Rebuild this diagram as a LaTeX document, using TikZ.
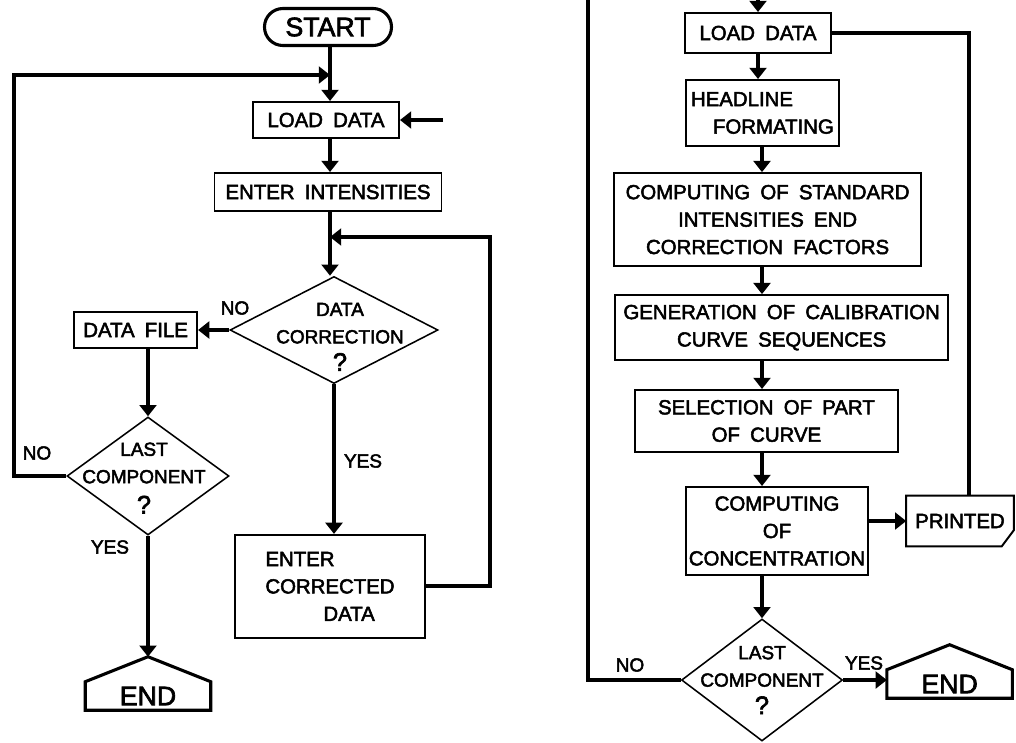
\documentclass[tikz,border=0pt]{standalone}
\usepackage{fontspec}
\setmainfont{Liberation Sans}[WordSpace=1.8, UprightFeatures={FakeBold=2.5}]
\usetikzlibrary{shapes.geometric,arrows.meta}
\newcommand{\boxfont}{\fontsize{14.5}{19.5}\selectfont}
\newcommand{\askfont}{\fontsize{13.5}{19.5}\selectfont}
\newcommand{\bigfont}{\fontsize{19}{22}\selectfont}
\newcommand{\qmark}{{\fontsize{18}{19.5}\selectfont ?}}

\begin{document}
\begin{tikzpicture}[every node/.style={font=\boxfont},
  stepbox/.style={draw, line width=1.4pt, inner sep=2pt, align=center},
  ask/.style={draw, diamond, line width=1.1pt, inner sep=0pt},
  asktext/.style={inner sep=0pt, align=center, font=\askfont},
  tag/.style={font=\askfont},
  flow/.style={line width=2.8pt, -{Triangle[length=0.28cm,width=0.42cm]}},
  wire/.style={line width=2.8pt}]
      \useasboundingbox (0,0) rectangle (25.4,-18.55);
      \clip (0,0) rectangle (25.4,-18.55);
      % left chart
      \coordinate (axL) at (8.25,0);
      \coordinate (in1) at (11.075,-3.0);
      \coordinate (r1) at (12.25,-5.925);
      \coordinate (l1) at (0.35,-1.875);
      \node[draw, line width=2.2pt, rounded corners=0.46cm, minimum width=3.175cm, minimum height=0.925cm, font=\bigfont] (start) at (8.2,-0.675) {START};
      \node[stepbox, minimum width=3.65cm, minimum height=0.9cm] (load1) at (8.15,-3.0) {LOAD DATA};
      \node[stepbox, minimum width=5.675cm, minimum height=0.95cm] (enter) at (8.2,-4.8) {ENTER INTENSITIES};
      \node[ask, minimum width=5.2cm, minimum height=2.675cm] (dcorr) at (8.35,-8.25) {};
      \node[asktext] (dcorrq) at (8.5,-8.42) {DATA\\CORRECTION\\\qmark};
      \node[stepbox, minimum width=3.075cm, minimum height=0.9cm] (dfile) at (3.39,-8.25) {DATA FILE};
      \node[ask, minimum width=4.05cm, minimum height=2.95cm] (last1) at (3.7,-11.9) {};
      \node[asktext] (last1q) at (3.6,-11.95) {LAST\\COMPONENT\\[2pt]\qmark};
      \node[stepbox, align=left, minimum width=4.75cm, minimum height=2.575cm] (corr) at (8.25,-14.66) {ENTER\\CORRECTED\\\hspace*{1.45cm}DATA};
      \node[minimum width=3.125cm, minimum height=0.7cm, inner sep=0pt, font=\bigfont] (end1) at (3.7,-17.4) {END};
      \draw[line width=2.2pt] (end1.north west) -- ([yshift=0.625cm]end1.north) -- (end1.north east) -- (end1.south east) -- (end1.south west) -- cycle;
      \node[tag] (no1) at (5.875,-7.7) {NO};
      \node[tag] (no2) at (0.925,-11.325) {NO};
      \node[tag] (yes1) at (2.75,-13.675) {YES};
      \node[tag] (yes2) at (9.075,-11.525) {YES};
      \draw[flow] (start.south -| axL) -- (axL |- load1.north);
      \draw[flow] (last1.west) -| (l1) -- (axL |- l1);
      \draw[flow] (in1) -- (load1.east);
      \draw[flow] (axL |- load1.south) -- (axL |- enter.north);
      \draw[flow] (axL |- enter.south) -- (axL |- dcorr.north);
      \draw[flow] (dcorr.south) -- (dcorr.south |- corr.north);
      \draw[flow] (corr.east) -| (r1) -- (axL |- r1);
      \draw[flow] (dcorr.west) -- (dfile.east);
      \draw[flow] (dfile.south -| last1.north) -- (last1.north);
      \draw[flow] (last1.south) -- ([yshift=0.625cm]end1.north);
      % right chart
      \coordinate (axR) at (19.05,0);
      \coordinate (tl) at (14.7,0.25);
      \coordinate (pc) at (24.225,-0.825);
      \node[stepbox, minimum width=3.65cm, minimum height=1.0cm] (load2) at (18.95,-0.825) {LOAD DATA};
      \node[stepbox, align=left, minimum width=3.825cm, minimum height=1.65cm] (head) at (19.06,-2.825) {HEADLINE\\\hspace*{0.55cm}FORMATING};
      \node[stepbox, minimum width=7.675cm, minimum height=2.325cm] (comp) at (19.19,-5.49) {COMPUTING OF STANDARD\\INTENSITIES END\\CORRECTION FACTORS};
      \node[stepbox, minimum width=8.325cm, minimum height=1.625cm] (gen) at (19.54,-8.19) {GENERATION OF CALIBRATION\\CURVE SEQUENCES};
      \node[stepbox, minimum width=6.575cm, minimum height=1.55cm] (sel) at (19.16,-10.525) {SELECTION OF PART\\OF CURVE};
      \node[stepbox, minimum width=4.45cm, minimum height=2.2cm] (conc) at (19.425,-13.275) {COMPUTING\\OF\\CONCENTRATION};
      \node[minimum width=2.675cm, minimum height=1.25cm] (printed) at (24.0,-13.025) {PRINTED};
      \draw[line width=1.4pt] (printed.north west) -- (printed.north east) -- ([yshift=0.4cm]printed.south east) -- ([xshift=-0.3cm]printed.south east) -- (printed.south west) -- cycle;
      \node[ask, minimum width=4.025cm, minimum height=3.05cm] (last2) at (19.05,-17.0) {};
      \node[asktext] (last2q) at (last2) {LAST\\COMPONENT\\\qmark};
      \node[minimum width=3.125cm, minimum height=0.7cm, inner sep=0pt, font=\bigfont] (end2) at (23.74,-17.1) {END};
      \draw[line width=2.2pt] (end2.north west) -- ([yshift=0.625cm]end2.north) -- (end2.north east) -- (end2.south east) -- (end2.south west) -- cycle;
      \node[tag] (no3) at (15.75,-16.625) {NO};
      \node[tag] (yes3) at (21.6,-16.575) {YES};
      \draw[flow] (last2.west) -| (tl) -| (load2.north);
      \draw[flow] (load2.south) -- (load2.south |- head.north);
      \draw[flow] (axR |- head.south) -- (axR |- comp.north);
      \draw[flow] (axR |- comp.south) -- (axR |- gen.north);
      \draw[flow] (axR |- gen.south) -- (axR |- sel.north);
      \draw[flow] (axR |- sel.south) -- (axR |- conc.north);
      \draw[flow] (axR |- conc.south) -- (last2.north);
      \draw[flow] (conc.east |- printed.west) -- (printed.west);
      \draw[wire] (load2.east) -- (load2.east -| pc) -- (pc |- printed.north);
      \draw[flow] (last2.east) -- (last2.east -| end2.west);
    \end{tikzpicture}
\end{document}
